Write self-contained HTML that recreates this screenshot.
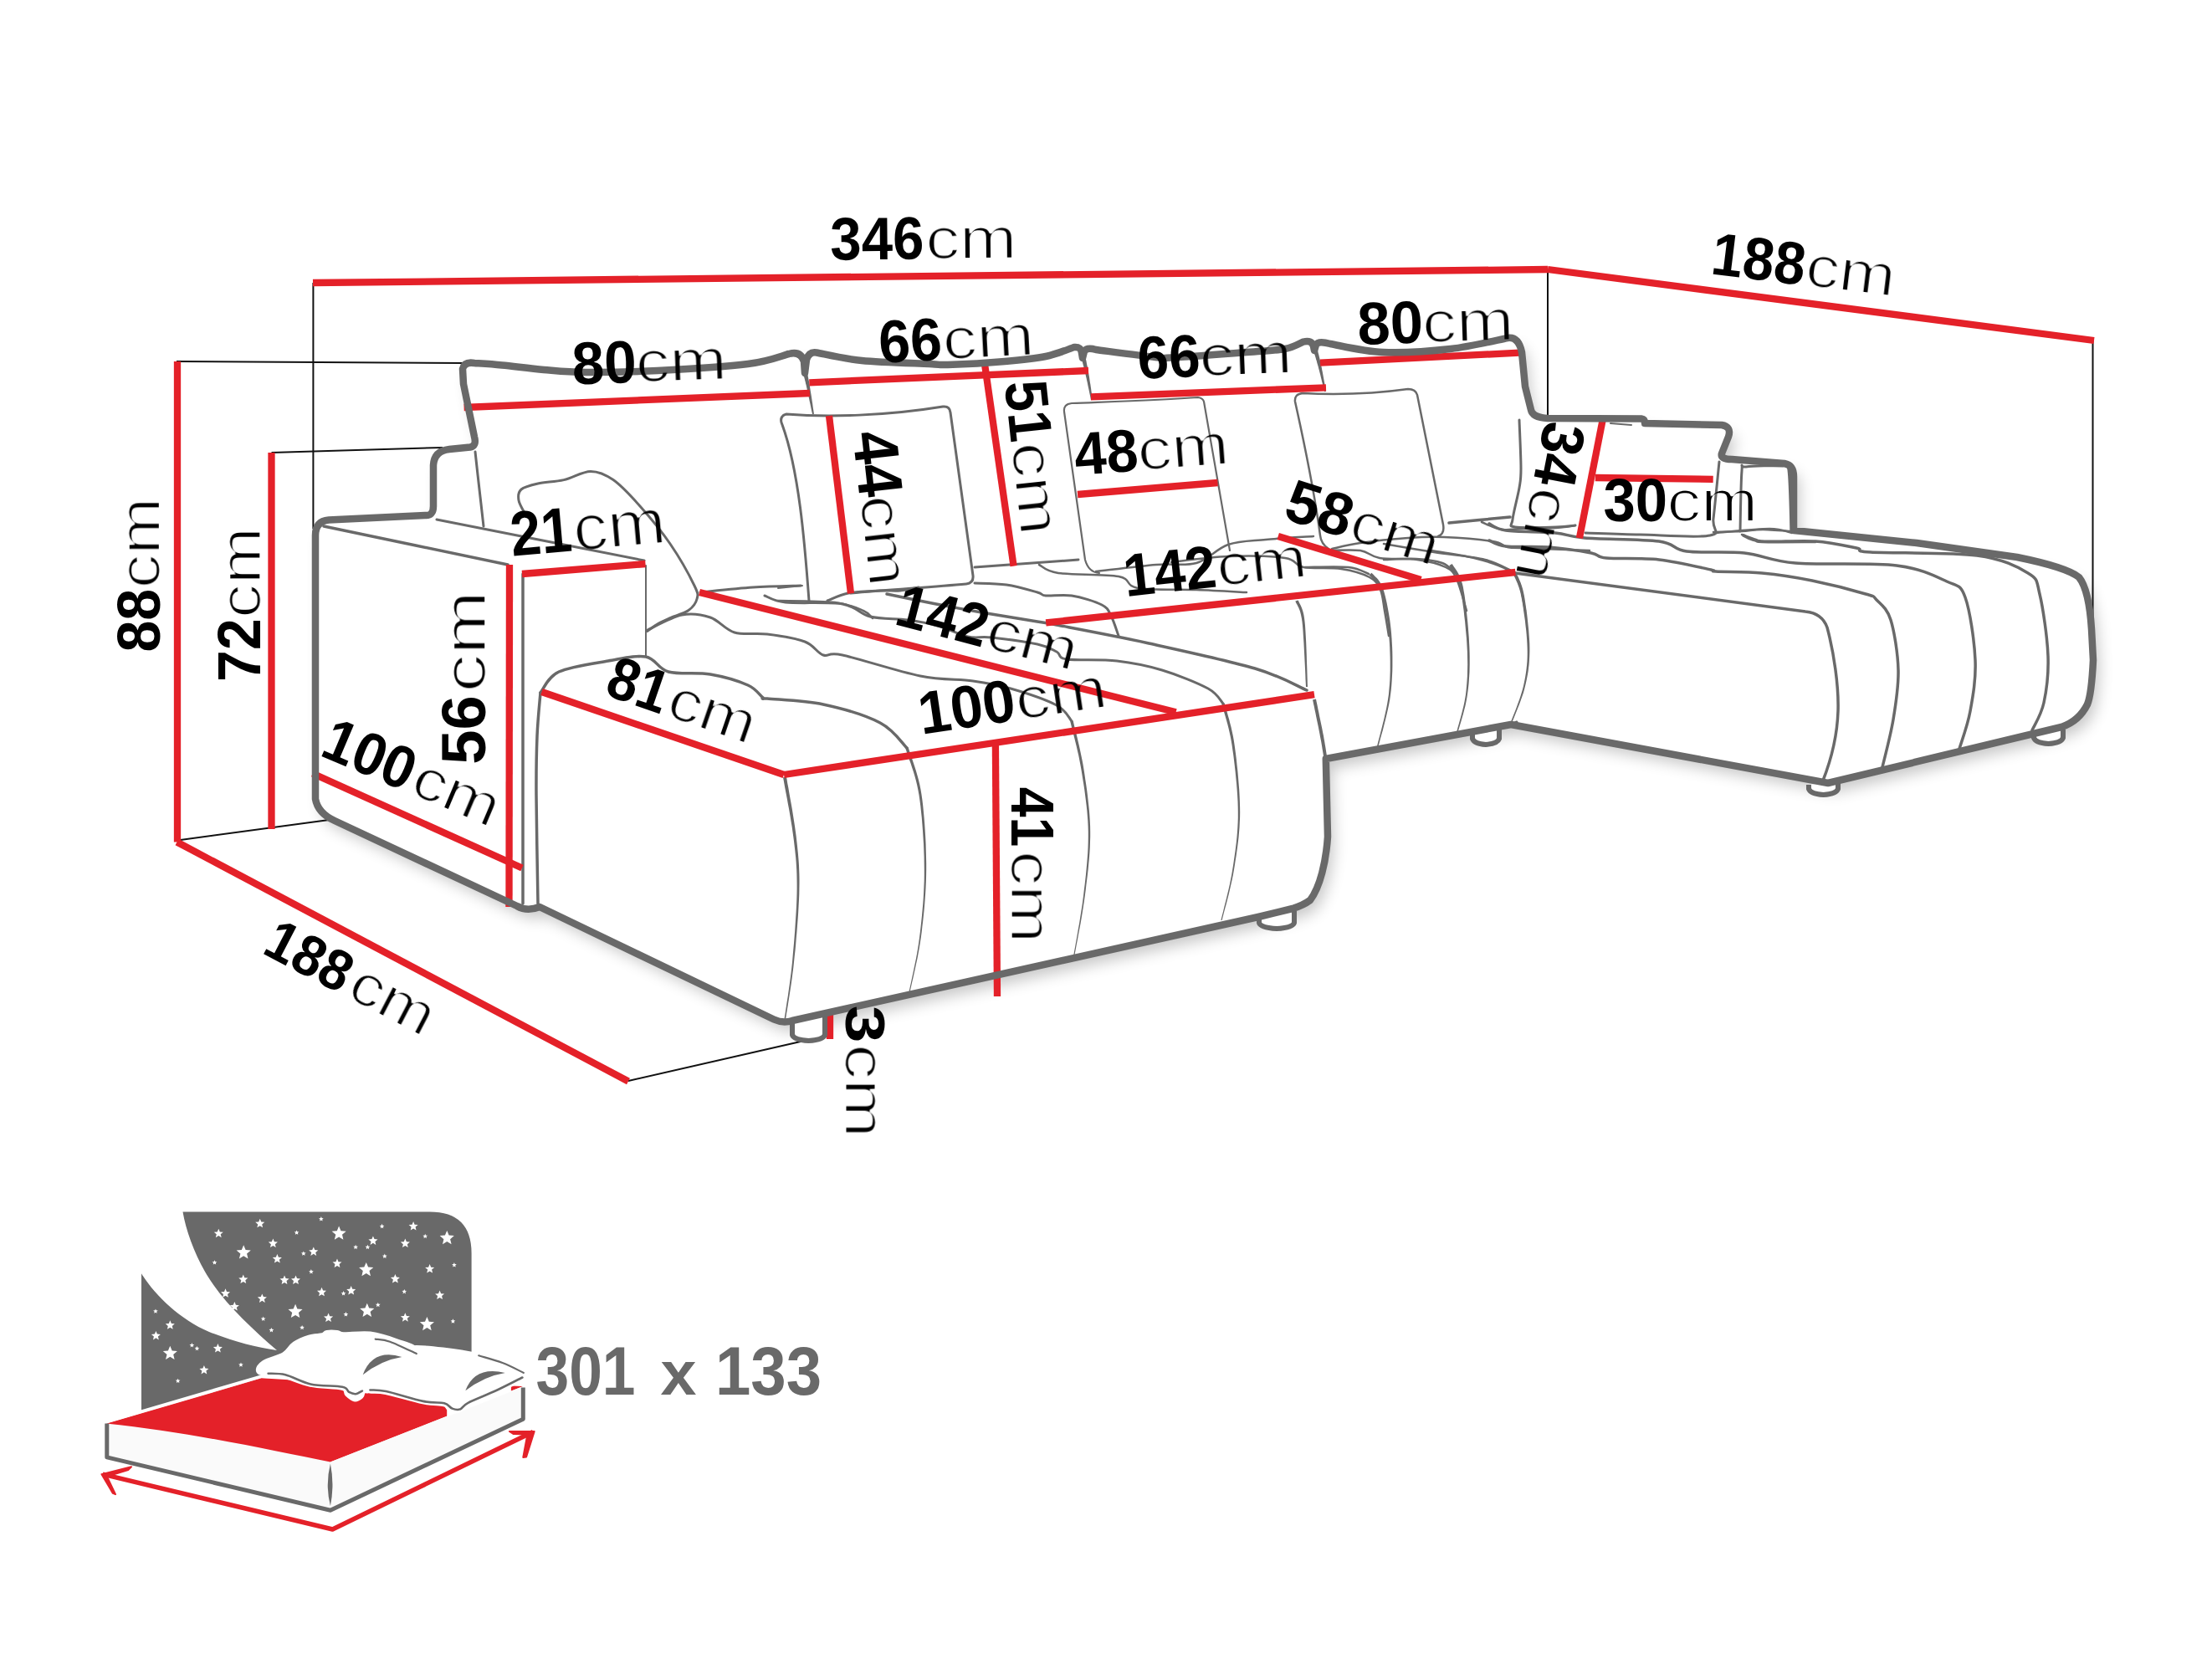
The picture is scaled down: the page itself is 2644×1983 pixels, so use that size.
<!DOCTYPE html>
<html><head><meta charset="utf-8"><style>html,body{margin:0;padding:0;background:#fff;overflow:hidden}svg{display:block}text{font-family:"Liberation Sans",sans-serif}</style></head>
<body><svg width="2644" height="1983" viewBox="0 0 2644 1983"><defs><filter id="thin" x="-20%" y="-50%" width="140%" height="200%"><feMorphology operator="erode" radius="0.9"/></filter><filter id="sh" x="-10%" y="-10%" width="120%" height="130%"><feGaussianBlur stdDeviation="9"/></filter></defs><path d="M377,955 L377,640 Q377,623 393,621.5 L508,616 Q518,617 518,605 L518,556 Q519,539 537,537 L562,534.5 Q570,533 567,522 L554,459 L553,441 Q555,432 567,434 C572.5,434.4 586.2,435.2 600.0,436.5 C613.8,437.8 633.3,440.6 650.0,442.0 C666.7,443.4 677.3,444.8 700.0,445.0 C722.7,445.2 753.7,444.7 786.0,443.0 C818.3,441.3 867.8,438.3 894.0,435.0 C920.2,431.7 934.8,425.0 943.0,423.0 Q957,419 961,432 L962,446 L964,430 Q967,420 976,421.5 C985.0,423.1 1007.5,428.8 1030.0,431.0 C1052.5,433.2 1093.8,434.2 1111.0,435.0 C1128.2,435.8 1118.0,436.5 1133.0,436.0 C1148.0,435.5 1181.5,433.7 1201.0,432.0 C1220.5,430.3 1236.2,428.8 1250.0,426.0 C1263.8,423.2 1278.3,416.8 1284.0,415.0 Q1292,414 1293,422 L1294,428 L1296,420 Q1299,415 1310,418 C1321.8,419.5 1366.0,425.4 1381.0,427.0 C1396.0,428.6 1381.8,428.5 1400.0,427.5 C1418.2,426.5 1467.3,422.8 1490.0,421.0 C1512.7,419.2 1524.7,419.1 1536.0,417.0 C1547.3,414.9 1554.3,409.9 1558.0,408.5 Q1568,406 1570,414 L1571,419 L1573,412 Q1576,407 1590,411 C1600.5,412.7 1629.0,420.0 1653.0,421.0 C1677.0,422.0 1709.2,419.8 1734.0,417.0 C1758.8,414.2 1790.7,406.2 1802.0,404.0 Q1815,402 1819,421 L1823,462 L1830,490 Q1832,499 1850,500 L1962,500.6 Q1966,501 1966,506 L2058,508 Q2070,510 2066,522 L2058,542 Q2056,549 2070,549 L2133,554 Q2144,556 2144,570 L2144,634 L2291,649 L2411,666 Q2470,678 2485,690 Q2497,705 2500,752 L2502,789 Q2500,830 2495,842 Q2485,862 2464,869 L2185,936 L1806,866 L1584.8,907 L1587,1000 C1585,1030 1578,1060 1566,1076 Q1558,1082 1545,1086 L1504,1096 L947,1220 Q936,1223.5 925,1218.5 L645,1084 Q630,1090 618,1083 L400,981 Q380,972 377,955 Z" transform="translate(7,11)" fill="#000" opacity="0.22" filter="url(#sh)"/><path d="M377,955 L377,640 Q377,623 393,621.5 L508,616 Q518,617 518,605 L518,556 Q519,539 537,537 L562,534.5 Q570,533 567,522 L554,459 L553,441 Q555,432 567,434 C572.5,434.4 586.2,435.2 600.0,436.5 C613.8,437.8 633.3,440.6 650.0,442.0 C666.7,443.4 677.3,444.8 700.0,445.0 C722.7,445.2 753.7,444.7 786.0,443.0 C818.3,441.3 867.8,438.3 894.0,435.0 C920.2,431.7 934.8,425.0 943.0,423.0 Q957,419 961,432 L962,446 L964,430 Q967,420 976,421.5 C985.0,423.1 1007.5,428.8 1030.0,431.0 C1052.5,433.2 1093.8,434.2 1111.0,435.0 C1128.2,435.8 1118.0,436.5 1133.0,436.0 C1148.0,435.5 1181.5,433.7 1201.0,432.0 C1220.5,430.3 1236.2,428.8 1250.0,426.0 C1263.8,423.2 1278.3,416.8 1284.0,415.0 Q1292,414 1293,422 L1294,428 L1296,420 Q1299,415 1310,418 C1321.8,419.5 1366.0,425.4 1381.0,427.0 C1396.0,428.6 1381.8,428.5 1400.0,427.5 C1418.2,426.5 1467.3,422.8 1490.0,421.0 C1512.7,419.2 1524.7,419.1 1536.0,417.0 C1547.3,414.9 1554.3,409.9 1558.0,408.5 Q1568,406 1570,414 L1571,419 L1573,412 Q1576,407 1590,411 C1600.5,412.7 1629.0,420.0 1653.0,421.0 C1677.0,422.0 1709.2,419.8 1734.0,417.0 C1758.8,414.2 1790.7,406.2 1802.0,404.0 Q1815,402 1819,421 L1823,462 L1830,490 Q1832,499 1850,500 L1962,500.6 Q1966,501 1966,506 L2058,508 Q2070,510 2066,522 L2058,542 Q2056,549 2070,549 L2133,554 Q2144,556 2144,570 L2144,634 L2291,649 L2411,666 Q2470,678 2485,690 Q2497,705 2500,752 L2502,789 Q2500,830 2495,842 Q2485,862 2464,869 L2185,936 L1806,866 L1584.8,907 L1587,1000 C1585,1030 1578,1060 1566,1076 Q1558,1082 1545,1086 L1504,1096 L947,1220 Q936,1223.5 925,1218.5 L645,1084 Q630,1090 618,1083 L400,981 Q380,972 377,955 Z" fill="#fff"/>
<polygon points="959.6,444.6 959.8,445.4 960.0,446.3 960.3,447.4 960.6,448.7 961.0,450.0 961.4,451.5 961.8,453.0 962.2,454.7 962.7,456.5 963.1,458.4 963.6,460.3 964.1,462.4 964.6,464.7 965.2,467.3 965.8,470.3 966.5,473.4 967.1,476.6 967.8,479.9 968.5,483.1 969.1,486.1 969.7,488.9 970.2,491.4 970.7,493.5 971.0,495.2 973.0,494.8 972.7,493.2 972.4,491.0 972.0,488.5 971.6,485.7 971.2,482.6 970.7,479.4 970.2,476.1 969.7,472.8 969.2,469.7 968.7,466.7 968.3,464.0 967.9,461.6 967.6,459.5 967.2,457.5 966.9,455.6 966.5,453.7 966.2,452.0 965.9,450.4 965.6,448.9 965.3,447.6 965.0,446.3 964.8,445.2 964.6,444.3 964.4,443.4" fill="#696969"/>
<polygon points="1292.6,427.5 1292.8,428.6 1293.2,430.0 1293.6,431.5 1294.0,433.3 1294.5,435.2 1295.0,437.2 1295.6,439.4 1296.1,441.6 1296.7,443.8 1297.2,446.0 1297.7,448.2 1298.2,450.4 1298.7,452.6 1299.2,455.0 1299.8,457.6 1300.3,460.3 1300.9,463.0 1301.5,465.7 1302.0,468.3 1302.5,470.8 1303.0,473.0 1303.4,475.1 1303.7,476.8 1304.0,478.2 1306.0,477.8 1305.8,476.5 1305.5,474.7 1305.2,472.7 1304.9,470.3 1304.5,467.8 1304.2,465.2 1303.8,462.5 1303.4,459.7 1302.9,457.0 1302.5,454.4 1302.2,451.9 1301.8,449.6 1301.4,447.5 1301.0,445.2 1300.6,442.9 1300.2,440.7 1299.8,438.4 1299.3,436.3 1298.9,434.2 1298.6,432.3 1298.2,430.5 1297.9,428.9 1297.7,427.6 1297.4,426.5" fill="#696969"/>
<polygon points="1569.6,417.6 1569.9,418.7 1570.3,420.1 1570.8,421.6 1571.3,423.4 1571.9,425.3 1572.5,427.3 1573.1,429.4 1573.8,431.6 1574.4,433.9 1575.0,436.1 1575.7,438.3 1576.2,440.4 1576.8,442.6 1577.4,445.1 1578.1,447.6 1578.7,450.3 1579.4,453.0 1580.0,455.7 1580.7,458.3 1581.3,460.8 1581.8,463.1 1582.3,465.1 1582.7,466.8 1583.0,468.2 1585.0,467.8 1584.7,466.4 1584.4,464.7 1584.0,462.6 1583.6,460.3 1583.2,457.8 1582.7,455.2 1582.2,452.4 1581.7,449.7 1581.2,447.0 1580.7,444.3 1580.2,441.9 1579.8,439.6 1579.3,437.4 1578.8,435.1 1578.3,432.9 1577.8,430.6 1577.3,428.3 1576.8,426.2 1576.3,424.1 1575.8,422.2 1575.4,420.4 1575.0,418.8 1574.7,417.5 1574.4,416.4" fill="#696969"/>
<path d="M568.0,540.0 C568.8,547.5 571.3,570.2 573.0,585.0 C574.7,599.8 577.2,621.7 578.0,629.0" fill="none" stroke="#696969" stroke-width="3" stroke-linejoin="round" stroke-linecap="round" />
<path d="M387.0,629.0 C423.7,636.7 570.3,667.3 607.0,675.0" fill="none" stroke="#696969" stroke-width="3.5" stroke-linejoin="round" stroke-linecap="round" />
<path d="M522.0,621.0 C563.3,629.2 728.7,661.8 770.0,670.0" fill="none" stroke="#696969" stroke-width="3" stroke-linejoin="round" stroke-linecap="round" />
<path d="M625.0,686.0 C625.0,751.7 625.0,1014.3 625.0,1080.0" fill="none" stroke="#696969" stroke-width="3.5" stroke-linejoin="round" stroke-linecap="round" />
<path d="M772.0,676.0 C772.0,694.2 772.0,766.8 772.0,785.0" fill="none" stroke="#696969" stroke-width="2" stroke-linejoin="round" stroke-linecap="round" />
<path d="M628.0,615.0 C626.7,612.2 620.8,603.0 620.0,598.0 C619.2,593.0 619.2,588.3 623.0,585.0 C626.8,581.7 634.5,579.9 643.0,578.0 C651.5,576.1 663.5,576.0 674.0,573.6 C684.5,571.2 696.2,563.4 706.0,563.4 C715.8,563.4 723.2,566.7 733.0,573.6 C742.8,580.5 753.7,592.3 765.0,605.0 C776.3,617.7 790.2,634.2 801.0,650.0 C811.8,665.8 824.7,689.0 830.0,700.0 C835.3,711.0 834.2,711.1 833.0,716.0 C831.8,720.9 828.3,725.7 823.0,729.5 C817.7,733.3 807.0,736.0 801.0,738.6 C795.0,741.2 791.5,742.8 787.0,745.4 C782.5,748.0 775.9,752.9 773.7,754.4" fill="none" stroke="#696969" stroke-width="3" stroke-linejoin="round" stroke-linecap="round" />
<path d="M646.0,828.0 C649.7,823.8 654.5,809.3 668.0,803.0 C681.5,796.7 709.7,793.0 727.0,790.0 C744.3,787.0 760.0,782.8 772.0,785.0 C784.0,787.2 786.2,799.5 799.0,803.0 C811.8,806.5 833.2,803.3 849.0,806.0 C864.8,808.7 883.5,814.3 894.0,819.0 C904.5,823.7 908.2,831.3 912.0,834.0 C915.8,836.7 905.0,833.7 917.0,835.0 C929.0,836.3 961.5,837.2 984.0,842.0 C1006.5,846.8 1035.3,855.3 1052.0,864.0 C1068.7,872.7 1078.7,889.0 1084.0,894.0" fill="none" stroke="#696969" stroke-width="3.5" stroke-linejoin="round" stroke-linecap="round" />
<path d="M643.0,1080.0 C642.7,1058.3 641.2,983.3 641.0,950.0 C640.8,916.7 641.2,900.3 642.0,880.0 C642.8,859.7 645.3,836.7 646.0,828.0" fill="none" stroke="#696969" stroke-width="3.5" stroke-linejoin="round" stroke-linecap="round" />
<polygon points="936.0,929.3 936.7,932.8 937.5,937.2 938.4,942.3 939.5,948.1 940.7,954.3 941.9,961.0 943.2,967.8 944.4,974.7 945.5,981.5 946.6,988.1 947.5,994.4 948.3,1000.2 949.0,1005.6 949.6,1010.7 950.2,1015.7 950.7,1020.5 951.2,1025.3 951.6,1030.1 951.9,1034.9 952.2,1039.8 952.4,1044.9 952.5,1050.3 952.6,1056.0 952.6,1062.0 952.5,1068.4 952.3,1075.3 952.0,1082.5 951.6,1090.0 951.1,1097.7 950.6,1105.4 950.1,1113.2 949.5,1120.9 948.9,1128.6 948.2,1136.0 947.6,1143.1 947.0,1149.9 946.3,1156.6 945.5,1163.4 944.6,1170.3 943.7,1177.1 942.7,1183.9 941.8,1190.4 940.8,1196.6 939.9,1202.4 939.1,1207.7 938.4,1212.5 937.7,1216.6 937.3,1219.9 938.7,1220.1 939.3,1216.8 939.9,1212.7 940.7,1208.0 941.6,1202.6 942.5,1196.8 943.5,1190.6 944.5,1184.1 945.5,1177.4 946.5,1170.5 947.4,1163.6 948.3,1156.8 949.0,1150.1 949.7,1143.3 950.5,1136.2 951.2,1128.8 951.8,1121.1 952.5,1113.4 953.1,1105.6 953.7,1097.8 954.2,1090.2 954.6,1082.7 955.0,1075.4 955.3,1068.5 955.4,1062.0 955.5,1056.0 955.5,1050.2 955.4,1044.8 955.2,1039.7 955.0,1034.7 954.7,1029.8 954.3,1025.0 953.9,1020.2 953.4,1015.4 952.9,1010.4 952.3,1005.2 951.7,999.8 950.9,993.9 950.0,987.6 949.0,980.9 947.9,974.1 946.8,967.1 945.6,960.3 944.4,953.7 943.3,947.4 942.3,941.6 941.3,936.5 940.6,932.1 940.0,928.7" fill="#696969"/>
<polygon points="1082.3,894.5 1083.2,897.1 1084.2,900.3 1085.5,903.9 1086.9,907.9 1088.5,912.2 1090.0,917.0 1091.7,922.0 1093.3,927.3 1094.8,932.8 1096.2,938.5 1097.4,944.3 1098.5,950.2 1099.4,956.5 1100.3,963.2 1101.0,970.3 1101.8,977.6 1102.4,985.3 1103.0,993.0 1103.5,1000.9 1104.0,1008.8 1104.3,1016.6 1104.6,1024.3 1104.7,1031.8 1104.8,1039.0 1104.8,1046.1 1104.7,1053.1 1104.4,1060.1 1104.1,1067.1 1103.7,1074.0 1103.2,1080.9 1102.6,1087.6 1102.0,1094.3 1101.3,1100.9 1100.6,1107.4 1099.9,1113.7 1099.1,1119.9 1098.3,1126.1 1097.3,1132.5 1096.2,1139.0 1095.0,1145.4 1093.7,1151.8 1092.4,1157.9 1091.2,1163.8 1090.0,1169.3 1088.9,1174.4 1087.9,1178.9 1087.1,1182.7 1086.4,1185.9 1087.6,1186.1 1088.2,1183.0 1089.1,1179.1 1090.1,1174.6 1091.3,1169.6 1092.5,1164.1 1093.8,1158.2 1095.1,1152.1 1096.5,1145.7 1097.7,1139.2 1098.9,1132.8 1099.9,1126.4 1100.9,1120.1 1101.7,1113.9 1102.4,1107.6 1103.2,1101.1 1103.9,1094.5 1104.6,1087.8 1105.2,1081.0 1105.7,1074.1 1106.2,1067.2 1106.6,1060.2 1106.9,1053.2 1107.1,1046.1 1107.2,1039.0 1107.2,1031.7 1107.0,1024.2 1106.8,1016.5 1106.6,1008.6 1106.2,1000.7 1105.7,992.8 1105.2,985.0 1104.6,977.4 1103.9,970.0 1103.2,962.8 1102.4,956.1 1101.5,949.8 1100.5,943.7 1099.3,937.8 1097.9,932.0 1096.4,926.4 1094.8,921.0 1093.2,915.9 1091.6,911.2 1090.1,906.7 1088.7,902.7 1087.5,899.1 1086.5,896.1 1085.7,893.5" fill="#696969"/>
<polygon points="1279.3,862.4 1280.0,865.2 1280.8,868.5 1281.8,872.5 1282.9,876.9 1284.1,881.6 1285.4,886.8 1286.7,892.1 1288.0,897.7 1289.3,903.3 1290.4,909.0 1291.5,914.7 1292.5,920.2 1293.4,925.8 1294.3,931.6 1295.3,937.5 1296.2,943.6 1297.0,949.8 1297.8,956.0 1298.6,962.4 1299.3,968.7 1299.8,975.1 1300.3,981.4 1300.6,987.8 1300.8,994.0 1300.8,1000.3 1300.7,1006.6 1300.5,1012.9 1300.2,1019.3 1299.7,1025.7 1299.2,1032.1 1298.6,1038.5 1298.0,1044.9 1297.3,1051.2 1296.6,1057.5 1295.8,1063.7 1295.1,1069.9 1294.3,1076.2 1293.4,1082.8 1292.3,1089.6 1291.2,1096.5 1290.1,1103.4 1288.9,1110.1 1287.8,1116.6 1286.7,1122.7 1285.7,1128.2 1284.8,1133.2 1284.0,1137.5 1283.4,1140.9 1284.6,1141.1 1285.2,1137.7 1286.0,1133.4 1286.9,1128.5 1288.0,1122.9 1289.1,1116.8 1290.3,1110.4 1291.6,1103.7 1292.8,1096.8 1293.9,1089.9 1295.0,1083.1 1296.0,1076.4 1296.9,1070.1 1297.7,1063.9 1298.4,1057.7 1299.2,1051.4 1300.0,1045.1 1300.7,1038.7 1301.3,1032.3 1301.9,1025.9 1302.4,1019.4 1302.8,1013.0 1303.0,1006.6 1303.2,1000.3 1303.2,994.0 1303.1,987.7 1302.8,981.3 1302.4,974.9 1301.9,968.5 1301.2,962.1 1300.5,955.7 1299.8,949.4 1299.0,943.2 1298.1,937.1 1297.2,931.2 1296.4,925.4 1295.5,919.8 1294.6,914.2 1293.5,908.4 1292.3,902.7 1291.1,897.0 1289.9,891.4 1288.6,886.0 1287.4,880.8 1286.2,876.0 1285.1,871.6 1284.1,867.7 1283.3,864.3 1282.7,861.6" fill="#696969"/>
<polygon points="1460.3,841.4 1460.9,843.7 1461.7,846.4 1462.6,849.5 1463.7,853.0 1464.8,856.8 1466.0,860.9 1467.2,865.2 1468.4,869.9 1469.5,874.7 1470.6,879.7 1471.6,884.9 1472.5,890.2 1473.3,895.9 1474.2,902.0 1475.0,908.5 1475.8,915.2 1476.6,922.2 1477.3,929.4 1478.0,936.6 1478.6,943.8 1479.1,950.9 1479.5,957.9 1479.7,964.6 1479.8,971.0 1479.8,977.2 1479.6,983.2 1479.3,989.2 1478.9,995.1 1478.4,1001.0 1477.8,1006.7 1477.1,1012.4 1476.4,1018.0 1475.6,1023.5 1474.8,1029.0 1474.0,1034.5 1473.1,1039.9 1472.2,1045.4 1471.1,1051.1 1469.9,1056.9 1468.6,1062.7 1467.2,1068.5 1465.9,1074.1 1464.5,1079.5 1463.2,1084.6 1462.1,1089.3 1461.0,1093.4 1460.1,1097.0 1459.4,1099.9 1460.6,1100.1 1461.3,1097.3 1462.2,1093.7 1463.3,1089.6 1464.5,1084.9 1465.9,1079.9 1467.3,1074.5 1468.7,1068.9 1470.1,1063.1 1471.4,1057.2 1472.7,1051.4 1473.9,1045.7 1474.9,1040.1 1475.8,1034.7 1476.6,1029.3 1477.5,1023.8 1478.3,1018.2 1479.1,1012.6 1479.8,1006.9 1480.5,1001.2 1481.0,995.3 1481.5,989.4 1481.8,983.3 1482.1,977.2 1482.2,971.0 1482.1,964.5 1481.9,957.8 1481.6,950.8 1481.2,943.6 1480.6,936.4 1480.0,929.1 1479.4,921.9 1478.6,914.9 1477.9,908.1 1477.1,901.6 1476.3,895.5 1475.5,889.8 1474.7,884.4 1473.7,879.1 1472.6,874.0 1471.5,869.1 1470.3,864.4 1469.2,860.0 1468.0,855.9 1466.9,852.0 1465.9,848.6 1465.0,845.5 1464.3,842.8 1463.7,840.6" fill="#696969"/>
<polygon points="1569.0,836.4 1569.5,838.6 1570.1,841.4 1570.8,844.6 1571.5,848.3 1572.4,852.3 1573.2,856.5 1574.1,860.8 1575.0,865.1 1575.9,869.3 1576.7,873.4 1577.4,877.1 1578.0,880.4 1578.6,883.4 1579.2,886.5 1579.7,889.5 1580.2,892.5 1580.6,895.3 1581.1,898.1 1581.5,900.6 1581.9,903.1 1582.2,905.2 1582.5,907.2 1582.8,908.9 1583.0,910.3 1587.0,909.7 1586.7,908.3 1586.5,906.6 1586.2,904.6 1585.8,902.4 1585.4,900.0 1585.0,897.4 1584.6,894.7 1584.1,891.8 1583.6,888.9 1583.1,885.8 1582.5,882.7 1582.0,879.6 1581.3,876.3 1580.6,872.6 1579.8,868.6 1578.9,864.3 1578.0,860.0 1577.1,855.7 1576.3,851.5 1575.4,847.5 1574.7,843.8 1574.0,840.5 1573.4,837.8 1573.0,835.6" fill="#696969"/>
<path d="M774.0,753.0 C780.8,750.0 802.5,737.5 815.0,735.0 C827.5,732.5 838.5,734.5 849.0,738.0 C859.5,741.5 866.7,752.7 878.0,756.0 C889.3,759.3 903.0,756.2 917.0,758.0 C931.0,759.8 950.8,762.8 962.0,767.0 C973.2,771.2 976.5,780.3 984.0,783.0 C991.5,785.7 987.7,778.8 1007.0,783.0 C1026.3,787.2 1074.0,802.8 1100.0,808.0 C1126.0,813.2 1145.0,811.5 1163.0,814.0 C1181.0,816.5 1191.3,818.2 1208.0,823.0 C1224.7,827.8 1250.8,836.5 1263.0,843.0 C1275.2,849.5 1278.0,858.8 1281.0,862.0" fill="none" stroke="#696969" stroke-width="3" stroke-linejoin="round" stroke-linecap="round" />
<path d="M837.0,708.0 C847.5,707.0 880.0,703.3 900.0,702.0 C920.0,700.7 947.5,700.3 957.0,700.0" fill="none" stroke="#696969" stroke-width="3" stroke-linejoin="round" stroke-linecap="round" />
<path d="M914.0,712.0 C918.2,713.3 923.5,718.3 939.0,720.0 C954.5,721.7 990.2,719.2 1007.0,722.0 C1023.8,724.8 1027.0,733.8 1040.0,737.0 C1053.0,740.2 1071.5,739.2 1085.0,741.0 C1098.5,742.8 1109.0,744.7 1121.0,748.0 C1133.0,751.3 1146.3,758.7 1157.0,761.0 C1167.7,763.3 1171.2,760.5 1185.0,762.0 C1198.8,763.5 1227.0,767.2 1240.0,770.0 C1253.0,772.8 1257.2,776.0 1263.0,779.0 C1268.8,782.0 1263.0,786.2 1275.0,788.0 C1287.0,789.8 1316.0,787.8 1335.0,790.0 C1354.0,792.2 1370.8,795.5 1389.0,801.0 C1407.2,806.5 1431.8,816.3 1444.0,823.0 C1456.2,829.7 1459.0,838.0 1462.0,841.0" fill="none" stroke="#696969" stroke-width="3" stroke-linejoin="round" stroke-linecap="round" />
<path d="M989.0,718.0 C993.2,716.5 1003.5,711.0 1014.0,709.0 C1024.5,707.0 1041.7,706.5 1052.0,706.0 C1062.3,705.5 1068.3,706.7 1076.0,706.0 C1083.7,705.3 1094.3,702.7 1098.0,702.0" fill="none" stroke="#696969" stroke-width="3" stroke-linejoin="round" stroke-linecap="round" />
<path d="M1165.0,697.0 C1171.3,697.3 1190.5,697.2 1203.0,699.0 C1215.5,700.8 1232.2,705.8 1240.0,708.0 C1247.8,710.2 1243.2,711.3 1250.0,712.0 C1256.8,712.7 1269.8,710.2 1281.0,712.0 C1292.2,713.8 1309.2,719.0 1317.0,723.0 C1324.8,727.0 1324.7,729.8 1328.0,736.0 C1331.3,742.2 1335.5,756.0 1337.0,760.0" fill="none" stroke="#696969" stroke-width="3" stroke-linejoin="round" stroke-linecap="round" />
<path d="M930.0,718.0 C941.3,718.3 981.0,718.0 998.0,720.0 C1015.0,722.0 1024.5,726.8 1032.0,730.0 C1039.5,733.2 1041.2,737.5 1043.0,739.0" fill="none" stroke="#696969" stroke-width="2.5" stroke-linejoin="round" stroke-linecap="round" />
<path d="M930.0,703.0 C934.8,702.5 954.2,700.5 959.0,700.0" fill="none" stroke="#696969" stroke-width="2" stroke-linejoin="round" stroke-linecap="round" />
<path d="M1060.0,710.0 C1065.7,711.2 1080.7,714.3 1094.0,717.0 C1107.3,719.7 1126.3,723.4 1140.0,726.0 C1153.7,728.6 1159.3,729.7 1176.0,732.5 C1192.7,735.3 1225.5,740.6 1240.0,743.0 C1254.5,745.4 1241.2,742.8 1263.0,747.0 C1284.8,751.2 1331.5,759.8 1371.0,768.5 C1410.5,777.2 1468.2,789.6 1500.0,799.0 C1531.8,808.4 1551.7,820.7 1562.0,825.0" fill="none" stroke="#696969" stroke-width="3.5" stroke-linejoin="round" stroke-linecap="round" />
<path d="M1165.0,678.0 C1185.7,676.5 1268.3,670.5 1289.0,669.0" fill="none" stroke="#696969" stroke-width="3" stroke-linejoin="round" stroke-linecap="round" />
<path d="M1242.0,675.0 C1245.8,676.7 1249.2,682.7 1265.0,685.0 C1280.8,687.3 1321.2,686.0 1337.0,689.0 C1352.8,692.0 1344.5,700.3 1360.0,703.0 C1375.5,705.7 1408.3,704.2 1430.0,705.0 C1451.7,705.8 1480.0,707.5 1490.0,708.0" fill="none" stroke="#696969" stroke-width="2.5" stroke-linejoin="round" stroke-linecap="round" />
<path d="M1310.0,683.0 C1322.0,681.7 1362.0,676.7 1382.0,675.0 C1402.0,673.3 1415.7,677.0 1430.0,673.0 C1444.3,669.0 1454.2,655.7 1468.0,651.0 C1481.8,646.3 1496.0,646.7 1513.0,645.0 C1530.0,643.3 1560.5,641.7 1570.0,641.0" fill="none" stroke="#696969" stroke-width="2.5" stroke-linejoin="round" stroke-linecap="round" />
<path d="M1400.0,672.0 C1411.3,670.8 1445.3,665.8 1468.0,665.0 C1490.7,664.2 1521.0,664.8 1536.0,667.0 C1551.0,669.2 1546.8,675.8 1558.0,678.0 C1569.2,680.2 1589.8,678.0 1603.0,680.0 C1616.2,682.0 1629.2,685.8 1637.0,690.0 C1644.8,694.2 1647.0,698.3 1650.0,705.0 C1653.0,711.7 1653.3,720.8 1655.0,730.0 C1656.7,739.2 1659.2,755.0 1660.0,760.0" fill="none" stroke="#696969" stroke-width="2.5" stroke-linejoin="round" stroke-linecap="round" />
<path d="M1588.0,658.0 C1594.3,658.0 1615.8,656.5 1626.0,658.0 C1636.2,659.5 1637.7,665.2 1649.0,667.0 C1660.3,668.8 1680.8,667.2 1694.0,669.0 C1707.2,670.8 1720.2,674.2 1728.0,678.0 C1735.8,681.8 1736.8,683.3 1741.0,692.0 C1745.2,700.7 1751.0,723.7 1753.0,730.0" fill="none" stroke="#696969" stroke-width="2.5" stroke-linejoin="round" stroke-linecap="round" />
<path d="M1592.0,656.0 C1597.7,654.8 1610.8,651.2 1626.0,649.0 C1641.2,646.8 1666.3,644.2 1683.0,643.0 C1699.7,641.8 1709.2,641.3 1726.0,642.0 C1742.8,642.7 1771.3,645.0 1784.0,647.0 C1796.7,649.0 1796.3,652.7 1802.0,654.0 C1807.7,655.3 1801.7,654.3 1818.0,655.0 C1834.3,655.7 1886.3,657.5 1900.0,658.0" fill="none" stroke="#696969" stroke-width="2.5" stroke-linejoin="round" stroke-linecap="round" />
<path d="M1710.0,658.0 C1718.7,659.5 1746.7,663.2 1762.0,667.0 C1777.3,670.8 1793.0,676.0 1802.0,681.0 C1811.0,686.0 1812.5,688.8 1816.0,697.0 C1819.5,705.2 1821.8,724.5 1823.0,730.0" fill="none" stroke="#696969" stroke-width="2.5" stroke-linejoin="round" stroke-linecap="round" />
<path d="M1732.0,625.0 C1744.2,623.8 1792.8,619.2 1805.0,618.0" fill="none" stroke="#696969" stroke-width="3.5" stroke-linejoin="round" stroke-linecap="round" />
<path d="M1771.0,624.0 C1775.2,625.5 1786.2,631.8 1796.0,633.0 C1805.8,634.2 1819.5,631.3 1830.0,631.0 C1840.5,630.7 1850.2,631.5 1859.0,631.0 C1867.8,630.5 1879.0,628.5 1883.0,628.0" fill="none" stroke="#696969" stroke-width="2.5" stroke-linejoin="round" stroke-linecap="round" />
<polygon points="1548.4,718.6 1548.8,719.7 1549.4,720.9 1550.0,722.1 1550.7,723.3 1551.4,724.7 1552.2,726.3 1553.0,728.2 1553.8,730.3 1554.5,732.8 1555.2,735.8 1555.9,739.2 1556.5,743.2 1557.0,748.0 1557.5,753.9 1557.9,760.7 1558.4,768.0 1558.8,775.8 1559.2,783.6 1559.6,791.4 1560.0,798.9 1560.3,805.8 1560.5,811.9 1560.8,817.1 1561.0,821.0 1563.0,821.0 1562.8,817.0 1562.7,811.9 1562.5,805.7 1562.3,798.8 1562.0,791.3 1561.8,783.5 1561.5,775.6 1561.2,767.9 1560.8,760.5 1560.4,753.7 1560.0,747.8 1559.5,742.8 1559.0,738.7 1558.4,735.1 1557.7,732.0 1556.9,729.3 1556.1,727.0 1555.3,724.9 1554.5,723.2 1553.7,721.7 1553.0,720.4 1552.5,719.3 1552.0,718.3 1551.6,717.4" fill="#696969"/>
<polygon points="1636.4,687.3 1637.2,688.2 1638.2,689.2 1639.3,690.2 1640.4,691.2 1641.7,692.4 1642.9,693.7 1644.2,695.2 1645.5,696.9 1646.8,698.9 1648.0,701.1 1649.2,703.7 1650.2,706.6 1651.2,709.9 1652.3,713.7 1653.3,717.8 1654.3,722.3 1655.3,727.0 1656.3,731.9 1657.2,736.9 1658.0,742.1 1658.8,747.4 1659.4,752.7 1660.0,757.9 1660.5,763.1 1660.9,768.3 1661.2,773.7 1661.4,779.1 1661.6,784.7 1661.7,790.3 1661.7,796.0 1661.7,801.7 1661.5,807.4 1661.3,813.1 1660.9,818.7 1660.4,824.3 1659.9,829.9 1659.1,835.5 1658.1,841.5 1656.9,847.7 1655.5,854.0 1654.1,860.3 1652.5,866.5 1651.0,872.4 1649.6,878.0 1648.2,883.2 1647.0,887.7 1646.0,891.7 1645.3,894.8 1646.7,895.2 1647.5,892.1 1648.6,888.2 1649.8,883.6 1651.2,878.4 1652.8,872.9 1654.3,866.9 1655.9,860.7 1657.4,854.4 1658.9,848.1 1660.2,841.9 1661.3,835.9 1662.1,830.1 1662.8,824.6 1663.3,818.9 1663.7,813.2 1664.0,807.5 1664.3,801.8 1664.4,796.0 1664.4,790.3 1664.4,784.6 1664.3,779.0 1664.1,773.5 1663.8,768.2 1663.5,762.9 1663.1,757.6 1662.6,752.3 1662.0,747.0 1661.3,741.6 1660.5,736.4 1659.6,731.3 1658.7,726.3 1657.8,721.5 1656.8,717.0 1655.8,712.8 1654.8,708.9 1653.8,705.4 1652.7,702.3 1651.4,699.5 1650.1,697.0 1648.7,694.8 1647.3,692.8 1645.8,691.1 1644.4,689.7 1643.1,688.4 1642.0,687.3 1641.0,686.3 1640.2,685.5 1639.6,684.7" fill="#696969"/>
<polygon points="1732.3,676.0 1732.9,677.2 1733.8,678.5 1734.8,679.9 1736.0,681.5 1737.1,683.1 1738.3,685.0 1739.6,687.1 1740.8,689.5 1742.1,692.2 1743.2,695.2 1744.3,698.6 1745.2,702.4 1746.1,706.8 1747.0,711.9 1747.9,717.5 1748.7,723.5 1749.6,729.8 1750.3,736.4 1751.1,743.0 1751.7,749.7 1752.3,756.2 1752.9,762.5 1753.3,768.5 1753.6,774.1 1753.9,779.3 1754.0,784.4 1754.1,789.3 1754.2,794.1 1754.1,798.8 1754.0,803.5 1753.9,808.0 1753.6,812.4 1753.3,816.8 1752.9,821.2 1752.5,825.5 1752.0,829.9 1751.3,834.3 1750.5,838.8 1749.5,843.5 1748.4,848.1 1747.2,852.8 1746.0,857.3 1744.8,861.6 1743.7,865.6 1742.6,869.3 1741.7,872.7 1740.9,875.5 1740.3,877.8 1741.7,878.2 1742.3,875.9 1743.2,873.1 1744.2,869.8 1745.3,866.1 1746.5,862.0 1747.7,857.7 1749.0,853.2 1750.2,848.6 1751.4,843.9 1752.4,839.2 1753.3,834.6 1754.0,830.1 1754.6,825.8 1755.1,821.4 1755.6,817.0 1755.9,812.6 1756.2,808.1 1756.5,803.5 1756.6,798.9 1756.7,794.2 1756.7,789.3 1756.7,784.3 1756.6,779.2 1756.4,773.9 1756.1,768.3 1755.8,762.3 1755.3,755.9 1754.8,749.4 1754.2,742.7 1753.5,736.0 1752.8,729.4 1752.1,723.0 1751.3,717.0 1750.5,711.3 1749.6,706.2 1748.8,701.6 1747.8,697.6 1746.7,694.0 1745.5,690.7 1744.3,687.8 1743.0,685.3 1741.7,683.0 1740.4,681.0 1739.2,679.2 1738.1,677.7 1737.1,676.3 1736.3,675.1 1735.7,674.0" fill="#696969"/>
<polygon points="1808.1,684.7 1808.7,686.0 1809.3,687.5 1810.1,689.1 1810.9,690.8 1811.8,692.8 1812.8,694.9 1813.8,697.2 1814.7,699.7 1815.7,702.5 1816.6,705.5 1817.5,708.8 1818.2,712.3 1819.0,716.3 1819.8,720.8 1820.6,725.7 1821.3,731.0 1822.1,736.4 1822.9,742.1 1823.5,747.7 1824.2,753.4 1824.7,758.9 1825.1,764.3 1825.4,769.3 1825.6,774.0 1825.7,778.4 1825.7,782.6 1825.6,786.6 1825.4,790.5 1825.1,794.2 1824.7,797.9 1824.3,801.5 1823.8,805.1 1823.2,808.7 1822.5,812.4 1821.8,816.0 1821.0,819.8 1820.0,823.7 1818.8,827.8 1817.5,832.1 1816.0,836.4 1814.4,840.8 1812.9,845.1 1811.3,849.2 1809.8,853.1 1808.4,856.6 1807.1,859.8 1806.1,862.6 1805.3,864.7 1806.7,865.3 1807.5,863.1 1808.6,860.4 1809.9,857.2 1811.3,853.7 1812.9,849.8 1814.5,845.7 1816.2,841.4 1817.8,837.1 1819.3,832.7 1820.8,828.4 1822.0,824.2 1823.0,820.2 1823.9,816.5 1824.7,812.8 1825.4,809.2 1826.1,805.5 1826.7,801.9 1827.1,798.2 1827.6,794.5 1827.9,790.6 1828.1,786.7 1828.3,782.6 1828.4,778.4 1828.4,774.0 1828.3,769.2 1828.0,764.1 1827.6,758.7 1827.2,753.1 1826.6,747.4 1826.0,741.7 1825.4,736.0 1824.7,730.5 1823.9,725.2 1823.2,720.3 1822.5,715.7 1821.8,711.7 1821.0,708.0 1820.2,704.6 1819.3,701.4 1818.3,698.5 1817.3,695.8 1816.3,693.4 1815.4,691.2 1814.5,689.2 1813.6,687.4 1812.9,685.8 1812.3,684.5 1811.9,683.3" fill="#696969"/>
<path d="M1560.0,678.0 C1568.7,678.0 1599.3,676.7 1612.0,678.0 C1624.7,679.3 1632.0,684.7 1636.0,686.0" fill="none" stroke="#696969" stroke-width="2.5" stroke-linejoin="round" stroke-linecap="round" />
<path d="M1654.0,669.0 C1660.5,668.8 1681.3,667.3 1693.0,668.0 C1704.7,668.7 1716.5,670.3 1724.0,673.0 C1731.5,675.7 1735.7,682.2 1738.0,684.0" fill="none" stroke="#696969" stroke-width="2.5" stroke-linejoin="round" stroke-linecap="round" />
<path d="M1654.0,650.0 C1664.0,651.7 1693.8,656.8 1714.0,660.0 C1734.2,663.2 1759.7,665.3 1775.0,669.0 C1790.3,672.7 1800.8,679.8 1806.0,682.0" fill="none" stroke="#696969" stroke-width="2.5" stroke-linejoin="round" stroke-linecap="round" />
<path d="M967,718 C962,650 955,560 934,505 Q932,497 940,495 C990,499 1060,497 1127,486 Q1135,485 1136,493 L1163,688 Q1164,697 1155,698 C1110,702 1060,705 1017,709" fill="none" stroke="#696969" stroke-width="3" stroke-linejoin="round" stroke-linecap="round" />
<path d="M1314,685 Q1301,684 1297,669 L1272,492 Q1271,483 1281,482 C1330,480 1390,478 1432,475 Q1438,476 1439,480 L1470,658" fill="none" stroke="#696969" stroke-width="2.2" stroke-linejoin="round" stroke-linecap="round" />
<path d="M1588,656 Q1579,650 1578,640 C1574,610 1568,570 1548,480 Q1547,471 1557,470 C1600,472 1640,471 1683,465 Q1692,465 1694,472 L1725,627 Q1727,638 1719,641" fill="none" stroke="#696969" stroke-width="2.5" stroke-linejoin="round" stroke-linecap="round" />
<path d="M1816.0,502.0 C1816.3,511.7 1818.0,546.5 1818.0,560.0 C1818.0,573.5 1817.7,572.8 1816.0,583.0 C1814.3,593.2 1808.8,613.2 1808.0,621.0 C1807.2,628.8 1802.3,628.5 1811.0,630.0 C1819.7,631.5 1848.0,630.3 1860.0,630.0 C1872.0,629.7 1879.2,628.3 1883.0,628.0" fill="none" stroke="#696969" stroke-width="3" stroke-linejoin="round" stroke-linecap="round" />
<path d="M1895.0,637.0 C1905.8,637.3 1935.2,638.5 1960.0,639.0 C1984.8,639.5 2029.3,643.2 2044.0,640.0 C2058.7,636.8 2046.2,634.7 2048.0,620.0 C2049.8,605.3 2053.8,563.3 2055.0,552.0" fill="none" stroke="#696969" stroke-width="3" stroke-linejoin="round" stroke-linecap="round" />
<path d="M1925.0,506.0 C1929.2,506.3 1945.8,507.7 1950.0,508.0" fill="none" stroke="#696969" stroke-width="2" stroke-linejoin="round" stroke-linecap="round" />
<path d="M2080.0,635.0 C2080.3,623.0 2080.8,575.8 2082.0,563.0 C2083.2,550.2 2079.0,559.0 2087.0,558.0 C2095.0,557.0 2121.5,556.3 2130.0,557.0 C2138.5,557.7 2136.2,549.0 2138.0,562.0 C2139.8,575.0 2140.5,622.8 2141.0,635.0" fill="none" stroke="#696969" stroke-width="3" stroke-linejoin="round" stroke-linecap="round" />
<path d="M2050.0,637.0 C2060.8,636.2 2099.7,632.0 2115.0,632.0 C2130.3,632.0 2137.5,636.2 2142.0,637.0" fill="none" stroke="#696969" stroke-width="2.5" stroke-linejoin="round" stroke-linecap="round" />
<path d="M2084.0,640.0 C2087.5,641.2 2090.7,645.8 2105.0,647.0 C2119.3,648.2 2151.0,645.7 2170.0,647.0 C2189.0,648.3 2208.0,652.8 2219.0,655.0 C2230.0,657.2 2212.0,658.5 2236.0,660.0 C2260.0,661.5 2331.7,659.8 2363.0,664.0 C2394.3,668.2 2411.5,677.3 2424.0,685.0 C2436.5,692.7 2434.0,693.5 2438.0,710.0 C2442.0,726.5 2447.2,762.3 2448.0,784.0 C2448.8,805.7 2446.2,825.2 2443.0,840.0 C2439.8,854.8 2431.3,867.5 2429.0,873.0" fill="none" stroke="#696969" stroke-width="3.5" stroke-linejoin="round" stroke-linecap="round" />
<path d="M2048.0,636.0 C2053.7,635.8 2072.0,635.5 2082.0,635.0 C2092.0,634.5 2096.5,632.8 2108.0,633.0 C2119.5,633.2 2143.8,635.5 2151.0,636.0" fill="none" stroke="#696969" stroke-width="2.5" stroke-linejoin="round" stroke-linecap="round" />
<path d="M2082.0,639.0 C2084.8,640.0 2095.0,643.5 2099.0,645.0 C2103.0,646.5 2094.2,647.5 2106.0,648.0 C2117.8,648.5 2159.3,648.0 2170.0,648.0" fill="none" stroke="#696969" stroke-width="2.5" stroke-linejoin="round" stroke-linecap="round" />
<path d="M1811,685 L2158,731 Q2178,733 2184,750 C2192,780 2198,820 2197,850 C2196,880 2188,910 2179,933" fill="none" stroke="#696969" stroke-width="3.5" stroke-linejoin="round" stroke-linecap="round" />
<path d="M1780.0,646.0 C1783.3,647.2 1788.2,651.7 1800.0,653.0 C1811.8,654.3 1834.0,652.7 1851.0,654.0 C1868.0,655.3 1890.5,658.8 1902.0,661.0 C1913.5,663.2 1906.5,665.7 1920.0,667.0 C1933.5,668.3 1962.2,666.7 1983.0,669.0 C2003.8,671.3 2033.7,678.7 2045.0,681.0 C2056.3,683.3 2040.8,682.3 2051.0,683.0 C2061.2,683.7 2086.8,683.2 2106.0,685.0 C2125.2,686.8 2145.3,689.8 2166.0,694.0 C2186.7,698.2 2217.2,706.2 2230.0,710.0 C2242.8,713.8 2238.0,711.8 2243.0,717.0 C2248.0,722.2 2255.7,727.0 2260.0,741.0 C2264.3,755.0 2268.5,781.2 2269.0,801.0 C2269.5,820.8 2266.2,840.7 2263.0,860.0 C2259.8,879.3 2252.2,907.5 2250.0,917.0" fill="none" stroke="#696969" stroke-width="3.5" stroke-linejoin="round" stroke-linecap="round" />
<path d="M1780.0,626.0 C1783.3,627.3 1786.8,632.2 1800.0,634.0 C1813.2,635.8 1843.3,635.5 1859.0,637.0 C1874.7,638.5 1873.3,641.3 1894.0,643.0 C1914.7,644.7 1962.7,644.3 1983.0,647.0 C2003.3,649.7 1999.0,656.7 2016.0,659.0 C2033.0,661.3 2063.3,658.7 2085.0,661.0 C2106.7,663.3 2115.7,670.5 2146.0,673.0 C2176.3,675.5 2236.8,672.3 2267.0,676.0 C2297.2,679.7 2313.3,688.7 2327.0,695.0 C2340.7,701.3 2343.3,698.3 2349.0,714.0 C2354.7,729.7 2360.0,766.3 2361.0,789.0 C2362.0,811.7 2358.2,832.3 2355.0,850.0 C2351.8,867.7 2344.2,887.5 2342.0,895.0" fill="none" stroke="#696969" stroke-width="3.5" stroke-linejoin="round" stroke-linecap="round" />
<path d="M1806.0,866.0 C1807.2,865.5 1811.8,863.5 1813.0,863.0" fill="none" stroke="#696969" stroke-width="3" stroke-linejoin="round" stroke-linecap="round" />
<line x1="374.4" y1="338" x2="374.4" y2="632" stroke="#111" stroke-width="2" stroke-linecap="butt"/>
<line x1="211" y1="432" x2="556" y2="434" stroke="#111" stroke-width="2" stroke-linecap="butt"/>
<line x1="324.5" y1="541" x2="529" y2="535" stroke="#111" stroke-width="2" stroke-linecap="butt"/>
<line x1="215.6" y1="1004" x2="397" y2="979.4" stroke="#111" stroke-width="2" stroke-linecap="butt"/>
<line x1="751" y1="1292" x2="970" y2="1242" stroke="#111" stroke-width="2" stroke-linecap="butt"/>
<line x1="1850" y1="322" x2="1850" y2="499" stroke="#111" stroke-width="2" stroke-linecap="butt"/>
<line x1="2501.5" y1="407" x2="2501.5" y2="745" stroke="#111" stroke-width="2" stroke-linecap="butt"/>
<line x1="374" y1="338" x2="1850" y2="322" stroke="#e42129" stroke-width="8.3" stroke-linecap="butt"/>
<line x1="1850" y1="322" x2="2503" y2="407" stroke="#e42129" stroke-width="8.3" stroke-linecap="butt"/>
<line x1="212" y1="432" x2="212" y2="1006.5" stroke="#e42129" stroke-width="8.3" stroke-linecap="butt"/>
<line x1="211.5" y1="1006.5" x2="751" y2="1292.5" stroke="#e42129" stroke-width="8.3" stroke-linecap="butt"/>
<line x1="324.5" y1="541" x2="324.5" y2="991" stroke="#e42129" stroke-width="8.3" stroke-linecap="butt"/>
<line x1="609" y1="675" x2="608.5" y2="1084" stroke="#e42129" stroke-width="8.3" stroke-linecap="butt"/>
<line x1="373.7" y1="924.5" x2="624" y2="1037.5" stroke="#e42129" stroke-width="8.3" stroke-linecap="butt"/>
<line x1="624" y1="686" x2="771.5" y2="674" stroke="#e42129" stroke-width="8.3" stroke-linecap="butt"/>
<line x1="554.6" y1="487" x2="968" y2="470" stroke="#e42129" stroke-width="8.3" stroke-linecap="butt"/>
<line x1="967.3" y1="457.3" x2="1301" y2="443" stroke="#e42129" stroke-width="8.3" stroke-linecap="butt"/>
<line x1="1304" y1="474.3" x2="1585" y2="463.4" stroke="#e42129" stroke-width="8.3" stroke-linecap="butt"/>
<line x1="1578" y1="433.6" x2="1821" y2="421.4" stroke="#e42129" stroke-width="8.3" stroke-linecap="butt"/>
<line x1="1176.4" y1="431" x2="1211.6" y2="676.6" stroke="#e42129" stroke-width="8.3" stroke-linecap="butt"/>
<line x1="991" y1="497" x2="1017" y2="709.3" stroke="#e42129" stroke-width="8.3" stroke-linecap="butt"/>
<line x1="1288" y1="591" x2="1455.5" y2="577" stroke="#e42129" stroke-width="8.3" stroke-linecap="butt"/>
<line x1="1527.7" y1="641" x2="1698.4" y2="693" stroke="#e42129" stroke-width="8.3" stroke-linecap="butt"/>
<line x1="1250.2" y1="744.4" x2="1811.4" y2="684" stroke="#e42129" stroke-width="8.3" stroke-linecap="butt"/>
<line x1="836" y1="708" x2="1405.6" y2="851.3" stroke="#e42129" stroke-width="8.3" stroke-linecap="butt"/>
<line x1="647.5" y1="827" x2="937" y2="926" stroke="#e42129" stroke-width="8.3" stroke-linecap="butt"/>
<line x1="937" y1="926" x2="1571" y2="830.2" stroke="#e42129" stroke-width="8.3" stroke-linecap="butt"/>
<line x1="1189.9" y1="891" x2="1192" y2="1191" stroke="#e42129" stroke-width="8.3" stroke-linecap="butt"/>
<line x1="992" y1="1210" x2="992" y2="1242" stroke="#e42129" stroke-width="8.3" stroke-linecap="butt"/>
<line x1="1915.4" y1="503.2" x2="1887.9" y2="643.2" stroke="#e42129" stroke-width="8.3" stroke-linecap="butt"/>
<line x1="1906.8" y1="571" x2="2047.7" y2="572.8" stroke="#e42129" stroke-width="8.3" stroke-linecap="butt"/>
<path d="M947,1219 L947,1237 Q949,1243 966.5,1244 Q984,1243 986,1237 L986,1215" fill="#fff" stroke="#696969" stroke-width="6" stroke-linejoin="round"/>
<path d="M1505,1093 L1505,1103 Q1507,1109 1526.0,1110 Q1545,1109 1547,1103 L1547,1089" fill="#fff" stroke="#696969" stroke-width="6" stroke-linejoin="round"/>
<path d="M1760,876 L1760,883 Q1762,889 1776.0,890 Q1790,889 1792,883 L1792,872" fill="#fff" stroke="#696969" stroke-width="6" stroke-linejoin="round"/>
<path d="M2162,938 L2162,943 Q2164,949 2179.5,950 Q2195,949 2197,943 L2197,934" fill="#fff" stroke="#696969" stroke-width="6" stroke-linejoin="round"/>
<path d="M2431,876 L2431,882 Q2433,888 2448.5,889 Q2464,888 2466,882 L2466,872" fill="#fff" stroke="#696969" stroke-width="6" stroke-linejoin="round"/>
<path d="M377,955 L377,640 Q377,623 393,621.5 L508,616 Q518,617 518,605 L518,556 Q519,539 537,537 L562,534.5 Q570,533 567,522 L554,459 L553,441 Q555,432 567,434 C572.5,434.4 586.2,435.2 600.0,436.5 C613.8,437.8 633.3,440.6 650.0,442.0 C666.7,443.4 677.3,444.8 700.0,445.0 C722.7,445.2 753.7,444.7 786.0,443.0 C818.3,441.3 867.8,438.3 894.0,435.0 C920.2,431.7 934.8,425.0 943.0,423.0 Q957,419 961,432 L962,446 L964,430 Q967,420 976,421.5 C985.0,423.1 1007.5,428.8 1030.0,431.0 C1052.5,433.2 1093.8,434.2 1111.0,435.0 C1128.2,435.8 1118.0,436.5 1133.0,436.0 C1148.0,435.5 1181.5,433.7 1201.0,432.0 C1220.5,430.3 1236.2,428.8 1250.0,426.0 C1263.8,423.2 1278.3,416.8 1284.0,415.0 Q1292,414 1293,422 L1294,428 L1296,420 Q1299,415 1310,418 C1321.8,419.5 1366.0,425.4 1381.0,427.0 C1396.0,428.6 1381.8,428.5 1400.0,427.5 C1418.2,426.5 1467.3,422.8 1490.0,421.0 C1512.7,419.2 1524.7,419.1 1536.0,417.0 C1547.3,414.9 1554.3,409.9 1558.0,408.5 Q1568,406 1570,414 L1571,419 L1573,412 Q1576,407 1590,411 C1600.5,412.7 1629.0,420.0 1653.0,421.0 C1677.0,422.0 1709.2,419.8 1734.0,417.0 C1758.8,414.2 1790.7,406.2 1802.0,404.0 Q1815,402 1819,421 L1823,462 L1830,490 Q1832,499 1850,500 L1962,500.6 Q1966,501 1966,506 L2058,508 Q2070,510 2066,522 L2058,542 Q2056,549 2070,549 L2133,554 Q2144,556 2144,570 L2144,634 L2291,649 L2411,666 Q2470,678 2485,690 Q2497,705 2500,752 L2502,789 Q2500,830 2495,842 Q2485,862 2464,869 L2185,936 L1806,866 L1584.8,907 L1587,1000 C1585,1030 1578,1060 1566,1076 Q1558,1082 1545,1086 L1504,1096 L947,1220 Q936,1223.5 925,1218.5 L645,1084 Q630,1090 618,1083 L400,981 Q380,972 377,955 Z" fill="none" stroke="#696969" stroke-width="8.5" stroke-linejoin="round" stroke-linecap="round" />
<path d="M218.5,1448.4 L513.6,1448.4 Q563.6,1448.4 563.6,1498 L563.6,1660 L169,1700 L169,1522.2 C185,1548 215,1577 250,1592 C280,1604 305,1610 331,1614 C300,1587 265,1555 245,1520 C232,1497 222,1470 218.5,1448.4 Z" fill="#696969"/>
<polygon points="291.2,1488.3 293.6,1494.0 299.8,1494.5 295.1,1498.5 296.5,1504.6 291.2,1501.3 285.9,1504.6 287.4,1498.5 282.6,1494.5 288.8,1494.0" fill="#fff"/>
<polygon points="405.1,1465.5 407.5,1471.2 413.7,1471.7 409.0,1475.7 410.4,1481.8 405.1,1478.5 399.8,1481.8 401.3,1475.7 396.6,1471.7 402.8,1471.2" fill="#fff"/>
<polygon points="534.3,1470.9 536.6,1476.6 542.8,1477.1 538.1,1481.2 539.6,1487.2 534.3,1484.0 529.0,1487.2 530.4,1481.2 525.7,1477.1 531.9,1476.6" fill="#fff"/>
<polygon points="437.7,1508.9 440.1,1514.6 446.3,1515.1 441.5,1519.1 443.0,1525.2 437.7,1521.9 432.4,1525.2 433.8,1519.1 429.1,1515.1 435.3,1514.6" fill="#fff"/>
<polygon points="353.1,1558.8 355.4,1564.5 361.6,1565.0 356.9,1569.1 358.3,1575.1 353.1,1571.9 347.8,1575.1 349.2,1569.1 344.5,1565.0 350.7,1564.5" fill="#fff"/>
<polygon points="438.8,1557.7 441.2,1563.4 447.3,1563.9 442.6,1568.0 444.1,1574.0 438.8,1570.8 433.5,1574.0 434.9,1568.0 430.2,1563.9 436.4,1563.4" fill="#fff"/>
<polygon points="510.4,1574.0 512.8,1579.7 519.0,1580.2 514.2,1584.2 515.7,1590.3 510.4,1587.0 505.1,1590.3 506.5,1584.2 501.8,1580.2 508.0,1579.7" fill="#fff"/>
<polygon points="203.3,1608.7 205.7,1614.4 211.9,1614.9 207.2,1619.0 208.6,1625.0 203.3,1621.8 198.0,1625.0 199.5,1619.0 194.8,1614.9 200.9,1614.4" fill="#fff"/>
<polygon points="310.7,1456.8 312.3,1460.4 316.3,1460.8 313.2,1463.4 314.1,1467.2 310.7,1465.2 307.3,1467.2 308.3,1463.4 305.2,1460.8 309.2,1460.4" fill="#fff"/>
<polygon points="261.3,1468.7 262.8,1472.4 266.8,1472.7 263.7,1475.3 264.7,1479.2 261.3,1477.1 257.8,1479.2 258.8,1475.3 255.7,1472.7 259.7,1472.4" fill="#fff"/>
<polygon points="326.4,1480.6 327.9,1484.3 331.9,1484.6 328.8,1487.2 329.8,1491.1 326.4,1489.0 323.0,1491.1 323.9,1487.2 320.8,1484.6 324.8,1484.3" fill="#fff"/>
<polygon points="331.4,1499.1 332.9,1502.8 336.9,1503.1 333.8,1505.7 334.8,1509.6 331.4,1507.5 327.9,1509.6 328.9,1505.7 325.8,1503.1 329.8,1502.8" fill="#fff"/>
<polygon points="374.8,1490.4 376.3,1494.1 380.3,1494.4 377.2,1497.0 378.2,1500.9 374.8,1498.8 371.3,1500.9 372.3,1497.0 369.2,1494.4 373.2,1494.1" fill="#fff"/>
<polygon points="445.9,1477.4 447.5,1481.1 451.5,1481.4 448.4,1484.0 449.3,1487.9 445.9,1485.8 442.5,1487.9 443.5,1484.0 440.4,1481.4 444.4,1481.1" fill="#fff"/>
<polygon points="484.3,1480.6 485.9,1484.3 489.9,1484.6 486.8,1487.2 487.8,1491.1 484.3,1489.0 480.9,1491.1 481.9,1487.2 478.8,1484.6 482.8,1484.3" fill="#fff"/>
<polygon points="494.1,1460.0 495.6,1463.7 499.6,1464.0 496.6,1466.6 497.5,1470.5 494.1,1468.4 490.7,1470.5 491.6,1466.6 488.6,1464.0 492.6,1463.7" fill="#fff"/>
<polygon points="403.0,1504.5 404.5,1508.2 408.5,1508.5 405.5,1511.1 406.4,1515.0 403.0,1512.9 399.6,1515.0 400.5,1511.1 397.5,1508.5 401.4,1508.2" fill="#fff"/>
<polygon points="472.4,1522.9 473.9,1526.6 477.9,1526.9 474.9,1529.5 475.8,1533.4 472.4,1531.4 469.0,1533.4 469.9,1529.5 466.9,1526.9 470.9,1526.6" fill="#fff"/>
<polygon points="513.6,1511.0 515.2,1514.7 519.2,1515.0 516.1,1517.6 517.1,1521.5 513.6,1519.4 510.2,1521.5 511.2,1517.6 508.1,1515.0 512.1,1514.7" fill="#fff"/>
<polygon points="525.6,1542.5 527.1,1546.2 531.1,1546.5 528.1,1549.1 529.0,1553.0 525.6,1550.9 522.2,1553.0 523.1,1549.1 520.1,1546.5 524.0,1546.2" fill="#fff"/>
<polygon points="290.8,1523.6 292.3,1527.3 296.3,1527.6 293.3,1530.2 294.2,1534.1 290.8,1532.0 287.4,1534.1 288.3,1530.2 285.3,1527.6 289.2,1527.3" fill="#fff"/>
<polygon points="340.0,1524.5 341.6,1528.1 345.6,1528.5 342.5,1531.1 343.4,1535.0 340.0,1532.9 336.6,1535.0 337.6,1531.1 334.5,1528.5 338.5,1528.1" fill="#fff"/>
<polygon points="353.5,1524.5 355.0,1528.1 359.0,1528.5 356.0,1531.1 356.9,1535.0 353.5,1532.9 350.1,1535.0 351.0,1531.1 348.0,1528.5 352.0,1528.1" fill="#fff"/>
<polygon points="269.5,1540.3 271.0,1544.0 275.0,1544.3 272.0,1546.9 272.9,1550.8 269.5,1548.7 266.1,1550.8 267.0,1546.9 264.0,1544.3 268.0,1544.0" fill="#fff"/>
<polygon points="313.3,1546.4 314.9,1550.1 318.9,1550.4 315.8,1553.0 316.8,1556.9 313.3,1554.8 309.9,1556.9 310.9,1553.0 307.8,1550.4 311.8,1550.1" fill="#fff"/>
<polygon points="384.5,1538.8 386.1,1542.5 390.0,1542.8 387.0,1545.4 387.9,1549.3 384.5,1547.2 381.1,1549.3 382.0,1545.4 379.0,1542.8 383.0,1542.5" fill="#fff"/>
<polygon points="419.7,1537.0 421.2,1540.7 425.2,1541.1 422.2,1543.7 423.1,1547.5 419.7,1545.5 416.3,1547.5 417.2,1543.7 414.2,1541.1 418.1,1540.7" fill="#fff"/>
<polygon points="280.4,1556.1 281.9,1559.8 285.9,1560.2 282.8,1562.8 283.8,1566.6 280.4,1564.6 276.9,1566.6 277.9,1562.8 274.8,1560.2 278.8,1559.8" fill="#fff"/>
<polygon points="392.6,1569.6 394.1,1573.3 398.1,1573.6 395.0,1576.2 396.0,1580.1 392.6,1578.0 389.1,1580.1 390.1,1576.2 387.0,1573.6 391.0,1573.3" fill="#fff"/>
<polygon points="484.3,1569.2 485.9,1572.9 489.9,1573.2 486.8,1575.8 487.8,1579.7 484.3,1577.6 480.9,1579.7 481.9,1575.8 478.8,1573.2 482.8,1572.9" fill="#fff"/>
<polygon points="203.3,1578.3 204.9,1582.0 208.8,1582.3 205.8,1584.9 206.7,1588.8 203.3,1586.7 199.9,1588.8 200.8,1584.9 197.8,1582.3 201.8,1582.0" fill="#fff"/>
<polygon points="186.4,1590.9 187.9,1594.6 191.9,1594.9 188.9,1597.5 189.8,1601.4 186.4,1599.3 183.0,1601.4 183.9,1597.5 180.9,1594.9 184.9,1594.6" fill="#fff"/>
<polygon points="260.4,1606.1 261.9,1609.7 265.9,1610.1 262.9,1612.7 263.8,1616.5 260.4,1614.5 257.0,1616.5 257.9,1612.7 254.9,1610.1 258.9,1609.7" fill="#fff"/>
<polygon points="243.9,1631.9 245.4,1635.6 249.4,1635.9 246.4,1638.5 247.3,1642.4 243.9,1640.3 240.5,1642.4 241.4,1638.5 238.4,1635.9 242.4,1635.6" fill="#fff"/>
<polygon points="383.9,1454.1 384.7,1456.0 386.7,1456.2 385.2,1457.5 385.6,1459.6 383.9,1458.5 382.1,1459.6 382.6,1457.5 381.0,1456.2 383.1,1456.0" fill="#fff"/>
<polygon points="354.6,1470.4 355.4,1472.3 357.4,1472.5 355.9,1473.8 356.3,1475.8 354.6,1474.8 352.8,1475.8 353.3,1473.8 351.7,1472.5 353.8,1472.3" fill="#fff"/>
<polygon points="456.6,1462.8 457.4,1464.7 459.4,1464.9 457.9,1466.2 458.3,1468.2 456.6,1467.2 454.8,1468.2 455.3,1466.2 453.7,1464.9 455.8,1464.7" fill="#fff"/>
<polygon points="508.2,1474.7 509.0,1476.7 511.1,1476.8 509.5,1478.2 510.0,1480.2 508.2,1479.1 506.5,1480.2 506.9,1478.2 505.4,1476.8 507.4,1476.7" fill="#fff"/>
<polygon points="425.1,1487.8 425.9,1489.7 428.0,1489.8 426.4,1491.2 426.9,1493.2 425.1,1492.1 423.3,1493.2 423.8,1491.2 422.3,1489.8 424.3,1489.7" fill="#fff"/>
<polygon points="439.4,1487.8 440.2,1489.7 442.3,1489.8 440.7,1491.2 441.2,1493.2 439.4,1492.1 437.7,1493.2 438.1,1491.2 436.6,1489.8 438.6,1489.7" fill="#fff"/>
<polygon points="459.8,1498.6 460.6,1500.5 462.7,1500.7 461.1,1502.0 461.6,1504.0 459.8,1503.0 458.1,1504.0 458.5,1502.0 457.0,1500.7 459.0,1500.5" fill="#fff"/>
<polygon points="256.5,1506.2 257.3,1508.1 259.3,1508.3 257.8,1509.6 258.2,1511.6 256.5,1510.6 254.7,1511.6 255.2,1509.6 253.6,1508.3 255.7,1508.1" fill="#fff"/>
<polygon points="362.8,1495.4 363.6,1497.3 365.7,1497.4 364.1,1498.8 364.6,1500.8 362.8,1499.7 361.1,1500.8 361.5,1498.8 360.0,1497.4 362.0,1497.3" fill="#fff"/>
<polygon points="371.9,1517.1 372.7,1519.0 374.8,1519.1 373.2,1520.5 373.7,1522.5 371.9,1521.4 370.2,1522.5 370.7,1520.5 369.1,1519.1 371.1,1519.0" fill="#fff"/>
<polygon points="542.9,1509.0 543.7,1510.9 545.8,1511.1 544.2,1512.4 544.7,1514.5 542.9,1513.4 541.2,1514.5 541.7,1512.4 540.1,1511.1 542.1,1510.9" fill="#fff"/>
<polygon points="410.6,1543.1 411.4,1545.0 413.4,1545.2 411.8,1546.5 412.3,1548.5 410.6,1547.5 408.8,1548.5 409.3,1546.5 407.7,1545.2 409.8,1545.0" fill="#fff"/>
<polygon points="483.3,1540.9 484.1,1542.8 486.1,1543.0 484.5,1544.3 485.0,1546.4 483.3,1545.3 481.5,1546.4 482.0,1544.3 480.4,1543.0 482.5,1542.8" fill="#fff"/>
<polygon points="451.8,1556.8 452.6,1558.7 454.7,1558.8 453.1,1560.2 453.6,1562.2 451.8,1561.1 450.0,1562.2 450.5,1560.2 448.9,1558.8 451.0,1558.7" fill="#fff"/>
<polygon points="413.4,1568.1 414.2,1570.0 416.2,1570.1 414.7,1571.5 415.1,1573.5 413.4,1572.4 411.6,1573.5 412.1,1571.5 410.5,1570.1 412.6,1570.0" fill="#fff"/>
<polygon points="314.6,1573.5 315.4,1575.4 317.5,1575.6 315.9,1576.9 316.4,1578.9 314.6,1577.8 312.9,1578.9 313.4,1576.9 311.8,1575.6 313.9,1575.4" fill="#fff"/>
<polygon points="324.4,1586.9 325.2,1588.8 327.3,1589.0 325.7,1590.4 326.2,1592.4 324.4,1591.3 322.6,1592.4 323.1,1590.4 321.6,1589.0 323.6,1588.8" fill="#fff"/>
<polygon points="361.1,1583.9 361.9,1585.8 363.9,1586.0 362.4,1587.3 362.8,1589.3 361.1,1588.3 359.3,1589.3 359.8,1587.3 358.2,1586.0 360.3,1585.8" fill="#fff"/>
<polygon points="541.4,1576.3 542.2,1578.2 544.3,1578.4 542.7,1579.7 543.2,1581.7 541.4,1580.7 539.7,1581.7 540.1,1579.7 538.6,1578.4 540.6,1578.2" fill="#fff"/>
<polygon points="186.0,1564.4 186.7,1566.3 188.8,1566.4 187.2,1567.8 187.7,1569.8 186.0,1568.7 184.2,1569.8 184.7,1567.8 183.1,1566.4 185.2,1566.3" fill="#fff"/>
<polygon points="229.4,1605.0 230.2,1606.9 232.2,1607.0 230.6,1608.4 231.1,1610.4 229.4,1609.3 227.6,1610.4 228.1,1608.4 226.5,1607.0 228.6,1606.9" fill="#fff"/>
<polygon points="235.4,1608.9 236.2,1610.8 238.3,1610.9 236.7,1612.3 237.2,1614.3 235.4,1613.2 233.7,1614.3 234.2,1612.3 232.6,1610.9 234.6,1610.8" fill="#fff"/>
<polygon points="288.0,1628.4 288.7,1630.3 290.8,1630.5 289.2,1631.8 289.7,1633.8 288.0,1632.7 286.2,1633.8 286.7,1631.8 285.1,1630.5 287.2,1630.3" fill="#fff"/>
<polygon points="212.6,1647.7 213.4,1649.6 215.5,1649.8 213.9,1651.1 214.4,1653.1 212.6,1652.1 210.9,1653.1 211.4,1651.1 209.8,1649.8 211.9,1649.6" fill="#fff"/>
<polygon points="126.6,1701.4 312.7,1647.0 625.3,1657.1 625.3,1696.3 394.9,1805.2 127.8,1741.9" fill="#fafafa"/>
<path d="M126.6,1701.4 L312.7,1647.0 L625.3,1657.1 L394.9,1747.5 C327.8,1734.3 226.6,1711.5 126.6,1701.4 Z" fill="#e42129"/>
<polyline points="125.3,1700.1 312.7,1645.2 353.2,1647.7" fill="none" stroke="#fff" stroke-width="4"/>
<polygon points="394.9,1747.5 625.3,1657.1 625.3,1662.2 396.2,1752.0" fill="#fafafa"/>
<polyline points="127.8,1701.4 127.8,1741.9 394.9,1805.2 625.3,1696.3 625.3,1658.4" fill="none" stroke="#696969" stroke-width="5" stroke-linejoin="round"/>
<path d="M394.9,1749.5 Q388.6,1774.8 394.9,1800.1 Q400.0,1774.8 394.9,1749.5 Z" fill="#696969"/>
<polygon points="534.2,1693.4 534.2,1682.8 559.5,1674.9 592.7,1660.7 610.9,1652.0 610.9,1663.5" fill="#fff"/>
<path d="M437.7,1659.1 C439.0,1654.2 444.3,1639.6 450.3,1632.2 C456.4,1624.8 466.1,1618.2 474.1,1614.8 C482.0,1611.4 488.6,1611.8 497.8,1611.6 C507.0,1611.5 517.6,1612.6 529.4,1614.0 C541.3,1615.5 557.1,1617.8 569.0,1620.3 C580.9,1622.9 591.1,1626.0 600.6,1629.1 C610.1,1632.1 621.2,1636.3 625.9,1638.5 C630.7,1640.8 629.4,1641.0 629.1,1642.5 C628.9,1644.0 630.4,1644.0 624.4,1647.2 C618.3,1650.5 603.0,1658.1 592.7,1662.3 C582.4,1666.5 568.7,1669.7 562.7,1672.6 C556.6,1675.5 559.0,1677.5 556.3,1679.7 C553.7,1681.9 550.0,1685.1 546.8,1685.7 C543.7,1686.3 540.0,1684.5 537.3,1683.2 C534.7,1681.8 536.3,1679.2 531.0,1677.8 C525.7,1676.4 517.3,1677.3 505.7,1674.9 C494.1,1672.6 471.9,1665.7 461.4,1663.5 C450.8,1661.4 446.4,1662.7 442.4,1662.0 C438.4,1661.2 436.3,1664.1 437.7,1659.1Z" fill="#fff" stroke="#fff" stroke-width="7"/>
<path d="M309.5,1638.5 C308.7,1636.4 310.8,1632.2 315.8,1629.1 C320.8,1625.9 333.5,1623.2 339.6,1619.6 C345.6,1615.9 347.2,1610.3 352.2,1606.9 C357.2,1603.5 364.1,1600.7 369.6,1599.0 C375.2,1597.3 381.9,1597.5 385.4,1596.6 C389.0,1595.7 388.1,1594.0 391.0,1593.4 C393.9,1592.9 399.6,1593.1 402.8,1593.4 C406.1,1593.8 404.2,1595.6 410.8,1595.8 C417.4,1596.1 431.9,1593.7 442.4,1595.0 C453.0,1596.4 464.8,1600.2 474.1,1603.7 C483.3,1607.3 497.8,1609.8 497.8,1616.4 C497.8,1623.0 484.1,1636.2 474.1,1643.3 C464.0,1650.4 444.8,1654.9 437.7,1659.1 C430.5,1663.3 433.7,1666.5 431.3,1668.6 C429.0,1670.7 426.1,1672.2 423.4,1671.8 C420.8,1671.4 417.9,1668.5 415.5,1666.2 C413.1,1664.0 416.6,1660.3 409.2,1658.3 C401.8,1656.3 382.8,1656.7 371.2,1654.4 C359.6,1652.0 348.0,1646.1 339.6,1644.1 C331.1,1642.0 325.6,1642.9 320.6,1642.0 C315.6,1641.1 310.3,1640.7 309.5,1638.5Z" fill="#fff" stroke="#fff" stroke-width="7"/>
<path d="M320.6,1641.7 C324.0,1642.0 332.7,1641.2 341.1,1643.3 C349.6,1645.4 359.9,1651.9 371.2,1654.4 C382.5,1656.8 401.5,1656.3 409.2,1657.8 C416.8,1659.4 414.5,1662.5 417.1,1663.9 C419.7,1665.3 422.4,1666.4 425.0,1666.2 C427.6,1666.0 431.6,1663.2 432.9,1662.6" fill="none" stroke="#696969" stroke-width="2.6" stroke-linecap="round"/>
<path d="M442.4,1661.5 C445.6,1661.8 450.8,1660.8 461.4,1663.1 C471.9,1665.3 494.1,1672.6 505.7,1674.9 C517.3,1677.3 525.2,1675.9 531.0,1677.3 C536.8,1678.8 537.3,1682.5 540.5,1683.6 C543.7,1684.8 546.8,1685.6 550.0,1684.4 C553.2,1683.3 552.4,1680.5 559.5,1676.8 C566.6,1673.1 581.9,1667.3 592.7,1662.3 C603.5,1657.2 619.1,1649.1 624.4,1646.5" fill="none" stroke="#696969" stroke-width="2.6" stroke-linecap="round"/>
<path d="M448.7,1600.6 C451.6,1601.1 458.0,1600.8 466.1,1603.7 C474.3,1606.6 492.5,1615.6 497.8,1618.0" fill="none" stroke="#696969" stroke-width="2.2" stroke-linecap="round"/>
<path d="M572.2,1620.3 C576.9,1621.8 591.7,1625.6 600.6,1629.1 C609.6,1632.5 621.7,1638.9 625.9,1640.9" fill="none" stroke="#696969" stroke-width="2.2" stroke-linecap="round"/>
<path d="M433.7,1643.3 Q445.6,1611.6 480.4,1621.9 Q455.1,1625.9 433.7,1643.3Z" fill="#696969"/>
<path d="M556.3,1662.3 Q567.4,1632.2 603.8,1640.9 Q578.5,1644.9 556.3,1662.3Z" fill="#696969"/>
<polyline points="122.8,1762.2 397.5,1828.0 637.2,1711.5" fill="none" stroke="#e42129" stroke-width="5.5" stroke-linejoin="round"/>
<path d="M121.5,1762.2 L157.0,1753.3 L153.2,1757.1 L127.8,1764.7 L138.0,1786.2 L134.9,1784.9 Z" fill="#e42129" stroke="#e42129" stroke-width="2" stroke-linejoin="round"/>
<path d="M638.7,1711.0 L608.9,1711.0 L613.9,1714.1 L630.4,1714.6 L625.3,1741.9 L629.1,1741.4 Z" fill="#e42129" stroke="#e42129" stroke-width="2" stroke-linejoin="round"/>
<g fill="#696969" font-family="Liberation Sans, sans-serif" font-weight="700"><text x="640.5" y="1666.8" font-size="80.8" textLength="119" lengthAdjust="spacingAndGlyphs">301</text><text x="789.5" y="1666.8" font-size="75" textLength="43" lengthAdjust="spacingAndGlyphs">x</text><text x="855" y="1666.8" font-size="80.8" textLength="127" lengthAdjust="spacingAndGlyphs">133</text></g>
<g font-family="Liberation Sans, sans-serif">
<g transform="translate(994.1,310.5) rotate(-0.5)"><text x="-1.54" y="0" font-weight="700" font-size="71.95" textLength="111.96" lengthAdjust="spacingAndGlyphs" fill="#000">346</text><text x="112.53" y="0" font-weight="400" font-size="71.02" textLength="108.85" lengthAdjust="spacingAndGlyphs" fill="#000" filter="url(#thin)">cm</text></g>
<g transform="translate(2047.8,327.8) rotate(7)"><text x="-4.24" y="0" font-weight="700" font-size="71.95" textLength="112.31" lengthAdjust="spacingAndGlyphs" fill="#000">188</text><text x="109.28" y="0" font-weight="400" font-size="71.02" textLength="107.44" lengthAdjust="spacingAndGlyphs" fill="#000" filter="url(#thin)">cm</text></g>
<g transform="translate(686.6,459.5) rotate(-2)"><text x="-2.20" y="0" font-weight="700" font-size="71.95" textLength="77.04" lengthAdjust="spacingAndGlyphs" fill="#000">80</text><text x="74.03" y="0" font-weight="400" font-size="71.02" textLength="108.85" lengthAdjust="spacingAndGlyphs" fill="#000" filter="url(#thin)">cm</text></g>
<g transform="translate(1054.0,433.7) rotate(-3)"><text x="-2.49" y="0" font-weight="700" font-size="71.95" textLength="75.54" lengthAdjust="spacingAndGlyphs" fill="#000">66</text><text x="74.12" y="0" font-weight="400" font-size="71.02" textLength="109.29" lengthAdjust="spacingAndGlyphs" fill="#000" filter="url(#thin)">cm</text></g>
<g transform="translate(1363.0,452.6) rotate(-2.2)"><text x="-2.47" y="0" font-weight="700" font-size="71.95" textLength="74.90" lengthAdjust="spacingAndGlyphs" fill="#000">66</text><text x="71.46" y="0" font-weight="400" font-size="71.02" textLength="111.03" lengthAdjust="spacingAndGlyphs" fill="#000" filter="url(#thin)">cm</text></g>
<g transform="translate(1625.5,411.9) rotate(-1.8)"><text x="-2.23" y="0" font-weight="700" font-size="71.95" textLength="78.32" lengthAdjust="spacingAndGlyphs" fill="#000">80</text><text x="75.21" y="0" font-weight="400" font-size="71.02" textLength="109.40" lengthAdjust="spacingAndGlyphs" fill="#000" filter="url(#thin)">cm</text></g>
<g transform="translate(614.5,664.5) rotate(-5)"><text x="-2.28" y="0" font-weight="700" font-size="75.58" textLength="73.11" lengthAdjust="spacingAndGlyphs" fill="#000">21</text><text x="72.97" y="0" font-weight="400" font-size="75.76" textLength="110.70" lengthAdjust="spacingAndGlyphs" fill="#000" filter="url(#thin)">cm</text></g>
<g transform="translate(1287.0,568.0) rotate(-4.3)"><text x="-1.04" y="0" font-weight="700" font-size="71.95" textLength="76.14" lengthAdjust="spacingAndGlyphs" fill="#000">48</text><text x="74.52" y="0" font-weight="400" font-size="71.02" textLength="109.29" lengthAdjust="spacingAndGlyphs" fill="#000" filter="url(#thin)">cm</text></g>
<g transform="translate(1918.0,622.6) rotate(0)"><text x="-1.58" y="0" font-weight="700" font-size="71.95" textLength="76.50" lengthAdjust="spacingAndGlyphs" fill="#000">30</text><text x="74.64" y="0" font-weight="400" font-size="71.02" textLength="108.53" lengthAdjust="spacingAndGlyphs" fill="#000" filter="url(#thin)">cm</text></g>
<g transform="translate(1534.2,619.8) rotate(17.7)"><text x="-2.21" y="0" font-weight="700" font-size="71.95" textLength="79.92" lengthAdjust="spacingAndGlyphs" fill="#000">58</text><text x="79.07" y="0" font-weight="400" font-size="71.02" textLength="107.55" lengthAdjust="spacingAndGlyphs" fill="#000" filter="url(#thin)">cm</text></g>
<g transform="translate(1846.6,502.9) rotate(101)"><text x="-1.57" y="0" font-weight="700" font-size="71.95" textLength="76.14" lengthAdjust="spacingAndGlyphs" fill="#000">34</text><text x="78.38" y="0" font-weight="400" font-size="71.02" textLength="110.38" lengthAdjust="spacingAndGlyphs" fill="#000" filter="url(#thin)">cm</text></g>
<g transform="translate(1019.0,519.0) rotate(83.5)"><text x="-1.07" y="0" font-weight="700" font-size="75.58" textLength="78.45" lengthAdjust="spacingAndGlyphs" fill="#000">44</text><text x="76.05" y="0" font-weight="400" font-size="71.02" textLength="108.31" lengthAdjust="spacingAndGlyphs" fill="#000" filter="url(#thin)">cm</text></g>
<g transform="translate(1201.0,459.6) rotate(83.9)"><text x="-2.01" y="0" font-weight="700" font-size="71.95" textLength="72.84" lengthAdjust="spacingAndGlyphs" fill="#000">51</text><text x="71.87" y="0" font-weight="400" font-size="71.02" textLength="110.70" lengthAdjust="spacingAndGlyphs" fill="#000" filter="url(#thin)">cm</text></g>
<g transform="translate(1350.0,712.9) rotate(-6.4)"><text x="-4.18" y="0" font-weight="700" font-size="71.95" textLength="110.84" lengthAdjust="spacingAndGlyphs" fill="#000">142</text><text x="107.57" y="0" font-weight="400" font-size="71.02" textLength="107.55" lengthAdjust="spacingAndGlyphs" fill="#000" filter="url(#thin)">cm</text></g>
<g transform="translate(1071.3,746.9) rotate(14.6)"><text x="-4.18" y="0" font-weight="700" font-size="71.95" textLength="110.84" lengthAdjust="spacingAndGlyphs" fill="#000">142</text><text x="107.50" y="0" font-weight="400" font-size="71.02" textLength="109.94" lengthAdjust="spacingAndGlyphs" fill="#000" filter="url(#thin)">cm</text></g>
<g transform="translate(1105.8,877.4) rotate(-8.5)"><text x="-4.39" y="0" font-weight="700" font-size="71.95" textLength="116.25" lengthAdjust="spacingAndGlyphs" fill="#000">100</text><text x="112.51" y="0" font-weight="400" font-size="71.02" textLength="109.61" lengthAdjust="spacingAndGlyphs" fill="#000" filter="url(#thin)">cm</text></g>
<g transform="translate(384.4,903.8) rotate(23)"><text x="-4.27" y="0" font-weight="700" font-size="71.95" textLength="113.05" lengthAdjust="spacingAndGlyphs" fill="#000">100</text><text x="112.60" y="0" font-weight="400" font-size="71.02" textLength="106.67" lengthAdjust="spacingAndGlyphs" fill="#000" filter="url(#thin)">cm</text></g>
<g transform="translate(315.2,1140.4) rotate(27.5)"><text x="-4.04" y="0" font-weight="700" font-size="68.31" textLength="107.01" lengthAdjust="spacingAndGlyphs" fill="#000">188</text><text x="109.45" y="0" font-weight="400" font-size="71.02" textLength="105.26" lengthAdjust="spacingAndGlyphs" fill="#000" filter="url(#thin)">cm</text></g>
<g transform="translate(723.0,830.7) rotate(19)"><text x="-2.08" y="0" font-weight="700" font-size="71.95" textLength="72.90" lengthAdjust="spacingAndGlyphs" fill="#000">81</text><text x="75.11" y="0" font-weight="400" font-size="71.02" textLength="106.46" lengthAdjust="spacingAndGlyphs" fill="#000" filter="url(#thin)">cm</text></g>
<g transform="translate(190.8,777.4) rotate(-90)"><text x="-2.16" y="0" font-weight="700" font-size="71.95" textLength="75.86" lengthAdjust="spacingAndGlyphs" fill="#000">88</text><text x="74.15" y="0" font-weight="400" font-size="71.02" textLength="108.31" lengthAdjust="spacingAndGlyphs" fill="#000" filter="url(#thin)">cm</text></g>
<g transform="translate(311.3,812.0) rotate(-90)"><text x="-2.92" y="0" font-weight="700" font-size="71.95" textLength="75.65" lengthAdjust="spacingAndGlyphs" fill="#000">72</text><text x="73.35" y="0" font-weight="400" font-size="71.02" textLength="108.31" lengthAdjust="spacingAndGlyphs" fill="#000" filter="url(#thin)">cm</text></g>
<g transform="translate(580.2,911.4) rotate(-90)"><text x="-2.28" y="0" font-weight="700" font-size="73.26" textLength="82.46" lengthAdjust="spacingAndGlyphs" fill="#000">56</text><text x="83.94" y="0" font-weight="400" font-size="72.54" textLength="121.04" lengthAdjust="spacingAndGlyphs" fill="#000" filter="url(#thin)">cm</text></g>
<g transform="translate(1208.7,941.6) rotate(90)"><text x="-0.98" y="0" font-weight="700" font-size="72.67" textLength="71.77" lengthAdjust="spacingAndGlyphs" fill="#000">41</text><text x="75.50" y="0" font-weight="400" font-size="71.02" textLength="109.94" lengthAdjust="spacingAndGlyphs" fill="#000" filter="url(#thin)">cm</text></g>
<g transform="translate(1010.5,1203.6) rotate(90)"><text x="-1.85" y="0" font-weight="700" font-size="66.86" textLength="44.75" lengthAdjust="spacingAndGlyphs" fill="#000">3</text><text x="44.44" y="0" font-weight="400" font-size="68.18" textLength="111.79" lengthAdjust="spacingAndGlyphs" fill="#000" filter="url(#thin)">cm</text></g>
</g></svg></body></html>
